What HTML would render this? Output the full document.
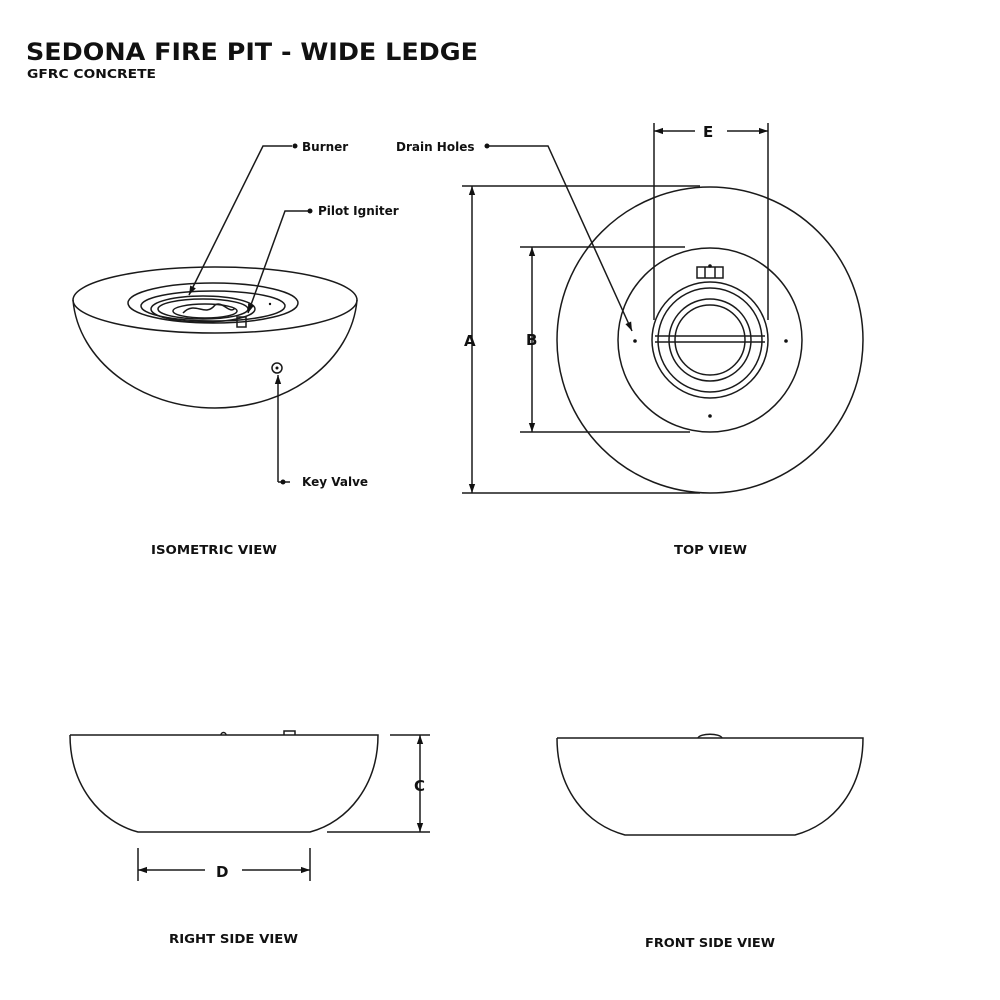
<!DOCTYPE html>
<html><head><meta charset="utf-8"><style>
html,body{margin:0;padding:0;background:#fff;width:1000px;height:1000px;overflow:hidden}
svg{display:block}
text{font-family:"DejaVu Sans","Liberation Sans",sans-serif;font-weight:bold;fill:#111}
</style></head><body>
<svg width="1000" height="1000" viewBox="0 0 1000 1000" xmlns="http://www.w3.org/2000/svg">
<defs>
<marker id="ah" viewBox="0 0 10 10" refX="10" refY="5" markerWidth="12" markerHeight="9" orient="auto-start-reverse" markerUnits="userSpaceOnUse"><path d="M0,1.5 L10,5 L0,8.5 Z" fill="#111"/></marker>
</defs>
<text x="26" y="60" font-size="24" textLength="452" lengthAdjust="spacingAndGlyphs">SEDONA FIRE PIT - WIDE LEDGE</text>
<text x="27" y="78" font-size="12" textLength="129" lengthAdjust="spacingAndGlyphs">GFRC CONCRETE</text>

<g fill="none" stroke="#1a1a1a" stroke-width="1.5">
<!-- Isometric -->
<ellipse cx="215" cy="300" rx="142" ry="33"/>
<path d="M73,300 C78,360 140,408 215,408 C290,408 352,360 357,300"/>
<ellipse cx="213" cy="303" rx="85" ry="20"/>
<ellipse cx="213" cy="306" rx="72" ry="15"/>
<ellipse cx="203" cy="309" rx="52" ry="13"/>
<ellipse cx="203" cy="309" rx="45" ry="10"/>
<ellipse cx="205" cy="311" rx="32" ry="7"/>
<path d="M183,313 C195,300 205,318 215,305 C222,300 230,315 235,308"/>
<rect x="237" y="317" width="9" height="10"/>
<ellipse cx="277" cy="368" rx="5" ry="5"/>
<!-- burner leaders -->
<path d="M292,146 L263,146 L189,295" marker-end="url(#ah)"/>
<path d="M308,211 L285,211 L248,313" marker-end="url(#ah)"/>
<path d="M278,482 L278,375" marker-end="url(#ah)"/>
<path d="M278,482 L290,482"/>
<!-- Top view -->
<circle cx="710" cy="340" r="153"/>
<circle cx="710" cy="340" r="92"/>
<circle cx="710" cy="340" r="58"/>
<circle cx="710" cy="340" r="52"/>
<circle cx="710" cy="340" r="41"/>
<circle cx="710" cy="340" r="35"/>
<path d="M655,336 H765 M655,342 H765"/>
<rect x="697" y="267" width="26" height="11"/>
<path d="M705,267 V278 M715,267 V278"/>
<!-- dims -->
<path d="M462,186 H700 M462,493 H700"/>
<path d="M472,186 V493" marker-start="url(#ah)" marker-end="url(#ah)"/>
<path d="M520,247 H685 M520,432 H690"/>
<path d="M532,247 V432" marker-start="url(#ah)" marker-end="url(#ah)"/>
<path d="M654,123 V320 M768,123 V320"/>
<path d="M654,131 H695" marker-start="url(#ah)"/>
<path d="M727,131 H768" marker-end="url(#ah)"/>
<path d="M488,146 H548 L632,331" marker-end="url(#ah)"/>
<!-- Right side -->
<path d="M70,735 H378 C378,785 348,822 310,832 H138 C100,822 70,785 70,735"/>
<path d="M221,735 a2.5,2.5 0 0 1 5,0 M284,735 V731 H295 V735"/>
<path d="M390,735 H430 M327,832 H430"/>
<path d="M420,735 V832" marker-start="url(#ah)" marker-end="url(#ah)"/>
<path d="M138,848 V881 M310,848 V881"/>
<path d="M138,870 H205" marker-start="url(#ah)"/>
<path d="M242,870 H310" marker-end="url(#ah)"/>
<!-- Front side -->
<path d="M557,738 H863 C863,790 833,825 795,835 H625 C587,825 557,790 557,738"/>
<path d="M698,738 C700,733 720,733 722,738"/>
</g>
<g fill="#111">
<circle cx="295" cy="146" r="2.5"/><circle cx="310" cy="211" r="2.5"/><circle cx="283" cy="482" r="2.5"/>
<circle cx="487" cy="146" r="2.5"/>
<circle cx="277" cy="368" r="1.5"/><circle cx="270" cy="304" r="1.2"/>
<circle cx="635" cy="341" r="1.8"/><circle cx="786" cy="341" r="1.8"/><circle cx="710" cy="416" r="1.8"/><circle cx="710" cy="266" r="1.8"/>
</g>
<g font-size="12">
<text x="302" y="151">Burner</text>
<text x="318" y="215">Pilot Igniter</text>
<text x="302" y="486">Key Valve</text>
<text x="396" y="151">Drain Holes</text>
<text x="151" y="554" textLength="126" lengthAdjust="spacingAndGlyphs">ISOMETRIC VIEW</text>
<text x="674" y="554" textLength="73" lengthAdjust="spacingAndGlyphs">TOP VIEW</text>
<text x="169" y="943" textLength="129" lengthAdjust="spacingAndGlyphs">RIGHT SIDE VIEW</text>
<text x="645" y="947" textLength="130" lengthAdjust="spacingAndGlyphs">FRONT SIDE VIEW</text>
</g>
<g font-size="15">
<text x="464" y="346">A</text>
<text x="526" y="345">B</text>
<text x="703" y="137">E</text>
<text x="414" y="791">C</text>
<text x="216" y="877">D</text>
</g>
</svg>
</body></html>
